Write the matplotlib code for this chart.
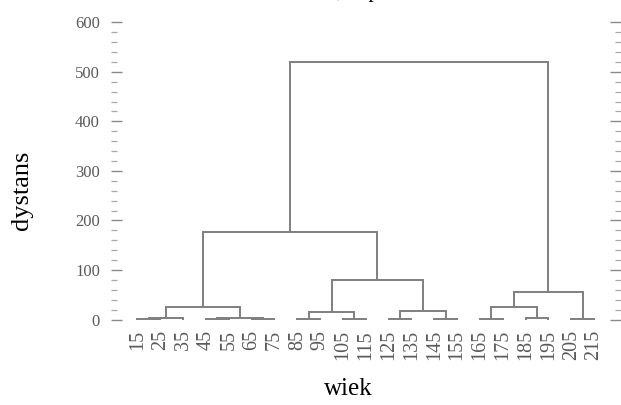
import matplotlib
matplotlib.use('Agg')
import matplotlib.pyplot as plt
from matplotlib.ticker import MultipleLocator

# ── dane ──
ages = [15, 25, 35, 45, 55, 65, 75, 85, 95, 105, 115,
        125, 135, 145, 155, 165, 175, 185, 195, 205, 215]

# łączenia (jak w linkage): id 0..20 to liście, kolejne id to nowe skupienia
merge_left = [0, 21, 3, 5, 23, 22, 7, 9, 27, 11, 13, 30, 29, 26,
              15, 17, 35, 19, 37, 34]
merge_right = [1, 2, 4, 6, 24, 25, 8, 10, 28, 12, 14, 31, 32, 33,
               16, 18, 36, 20, 38, 39]
merge_height = [1.0, 4.0, 1.0, 1.0, 4.0, 26.0, 1.0, 1.0, 15.0, 1.0, 2.0, 18.0, 79.0, 176.0,
                2.0, 3.0, 25.0, 2.0, 56.0, 519.0]

LINE = '#7f7f7f'
TICK = '#8a8a8a'
LABEL = '#5a5a5a'
SERIF = ['Liberation Serif', 'DejaVu Serif']

plt.rcParams['font.family'] = SERIF

fig = plt.figure(figsize=(6.21, 4.05), dpi=100)
ax = fig.add_axes([111 / 621, 1 - 324.5 / 405, (620.5 - 111) / 621, (324.5 - 22.3) / 405])

# pozycje węzłów
n = len(ages)
pos_x = {i: float(i) for i in range(n)}
pos_h = {i: 0.0 for i in range(n)}
for k, (a, b, h) in enumerate(zip(merge_left, merge_right, merge_height)):
    ax.plot([pos_x[a], pos_x[a], pos_x[b], pos_x[b]],
            [pos_h[a], h, h, pos_h[b]], color=LINE, lw=1.4,
            solid_capstyle='butt', solid_joinstyle='miter')
    pos_x[n + k] = (pos_x[a] + pos_x[b]) / 2
    pos_h[n + k] = h

ax.set_xlim(-1.16, 21.16)
ax.set_ylim(-10, 600)

for s in ax.spines.values():
    s.set_visible(False)

ax.yaxis.set_major_locator(MultipleLocator(100))
ax.yaxis.set_minor_locator(MultipleLocator(20))
ax.tick_params(axis='y', which='both', direction='in', left=True, right=True,
               color=TICK, labelcolor=LABEL, labelsize=12, pad=8)
ax.tick_params(axis='y', which='major', length=8, width=1)
ax.tick_params(axis='y', which='minor', length=4.3, width=0.9, color='#a8a8a8')

ax.set_xticks(range(n))
ax.set_xticklabels([str(a) for a in ages], rotation=90, fontsize=14.5, color=LABEL)
ax.tick_params(axis='x', length=0, pad=4)

fig.text(348 / 621, 1 - 389 / 405, 'wiek', ha='center', va='center', fontsize=18)
fig.text(22 / 621, 1 - 190 / 405, 'dystans', ha='center', va='center',
         rotation=90, fontsize=19)
# tytuł wychodzi poza górną krawędź — widać tylko dolne fragmenty
fig.text(337 / 621, 1 + 3.5 / 405, ',     p', ha='left', va='baseline', fontsize=15)

fig.savefig('out.png', dpi=100)
